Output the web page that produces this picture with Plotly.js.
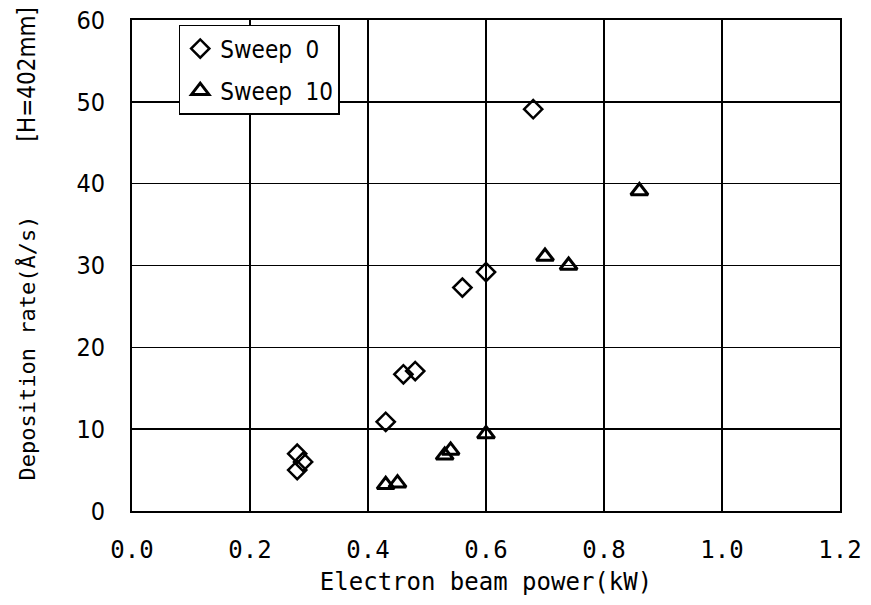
<!DOCTYPE html>
<html>
<head>
<meta charset="utf-8">
<script src="https://cdn.plot.ly/plotly-3.0.1.min.js"></script>
<style>html,body{margin:0;padding:0;background:#fff;}#chart{width:871px;height:605px;}</style>
</head>
<body>
<div id="chart"></div>
<script>
// Data
const sweep0Name = "Sweep  0";
const sweep0Power = [0.28, 0.29, 0.28, 0.43, 0.46, 0.48, 0.56, 0.60, 0.68];
const sweep0Rate  = [7.0, 6.0, 5.0, 10.9, 16.7, 17.1, 27.3, 29.2, 49.1];

const sweep10Name = "Sweep  10";
const sweep10Power = [0.43, 0.45, 0.53, 0.54, 0.60, 0.70, 0.74, 0.86];
const sweep10Rate  = [3.2, 3.4, 6.8, 7.4, 9.4, 31.1, 30.0, 39.1];

const xTitle = "Electron beam power(kW)";
const yTitle = "Deposition rate(Å/s)";
const yNote = "[H=402mm]";

const mono = "DejaVu Sans Mono, Liberation Mono, monospace";
const cond = "DejaVu Sans Condensed, Liberation Sans Narrow, Arial Narrow, sans-serif";

const traces = [
  {
    x: sweep0Power, y: sweep0Rate, name: sweep0Name, type: "scatter", mode: "markers",
    legendgroup: "a",
    marker: {symbol: "diamond-open", size: 14, color: "#000", line: {width: 2.5, color: "#000"}}
  },
  {
    x: sweep10Power, y: sweep10Rate, name: sweep10Name, type: "scatter", mode: "markers",
    legendgroup: "b",
    marker: {symbol: "triangle-up-open", size: 15, color: "#000", line: {width: 3, color: "#000"}}
  }
];

const layout = {
  width: 871, height: 605,
  margin: {l: 132, r: 31, t: 20, b: 94},
  paper_bgcolor: "#fff", plot_bgcolor: "#fff",
  showlegend: true,
  legend: {
    x: 0.066, y: 0.99, xanchor: "left", yanchor: "top",
    bgcolor: "#fff", bordercolor: "#000", borderwidth: 1.5,
    font: {family: cond, size: 24, color: "#000"},
    tracegroupgap: 8
  },
  xaxis: {
    range: [0, 1.2], dtick: 0.2, tick0: 0, tickformat: ".1f",
    showgrid: true, gridcolor: "#000", gridwidth: 1.5,
    showline: true, linecolor: "#000", linewidth: 2, mirror: true,
    zeroline: false, ticks: "", ticklabelstandoff: 16,
    tickfont: {family: mono, size: 24, color: "#000"},
    title: {text: xTitle, font: {family: mono, size: 24, color: "#000"}, standoff: 10}
  },
  yaxis: {
    range: [0, 60], dtick: 10, tick0: 0,
    showgrid: true, gridcolor: "#000", gridwidth: 1.5,
    showline: true, linecolor: "#000", linewidth: 2, mirror: true,
    zeroline: false, ticks: "", ticklabelstandoff: 20,
    tickfont: {family: cond, size: 25, color: "#000"}
  },
  annotations: [
    {
      text: yTitle, xref: "paper", yref: "paper",
      x: -0.149, y: (511 - 348) / 491, xanchor: "center", yanchor: "middle",
      textangle: -90, showarrow: false,
      font: {family: mono, size: 22, color: "#000"}
    },
    {
      text: yNote, xref: "paper", yref: "paper",
      x: -0.149, y: (511 - 75) / 491, xanchor: "center", yanchor: "middle",
      textangle: -90, showarrow: false,
      font: {family: cond, size: 24, color: "#000"}
    }
  ]
};

Plotly.newPlot("chart", traces, layout, {displayModeBar: false, staticPlot: true});
</script>
</body>
</html>
